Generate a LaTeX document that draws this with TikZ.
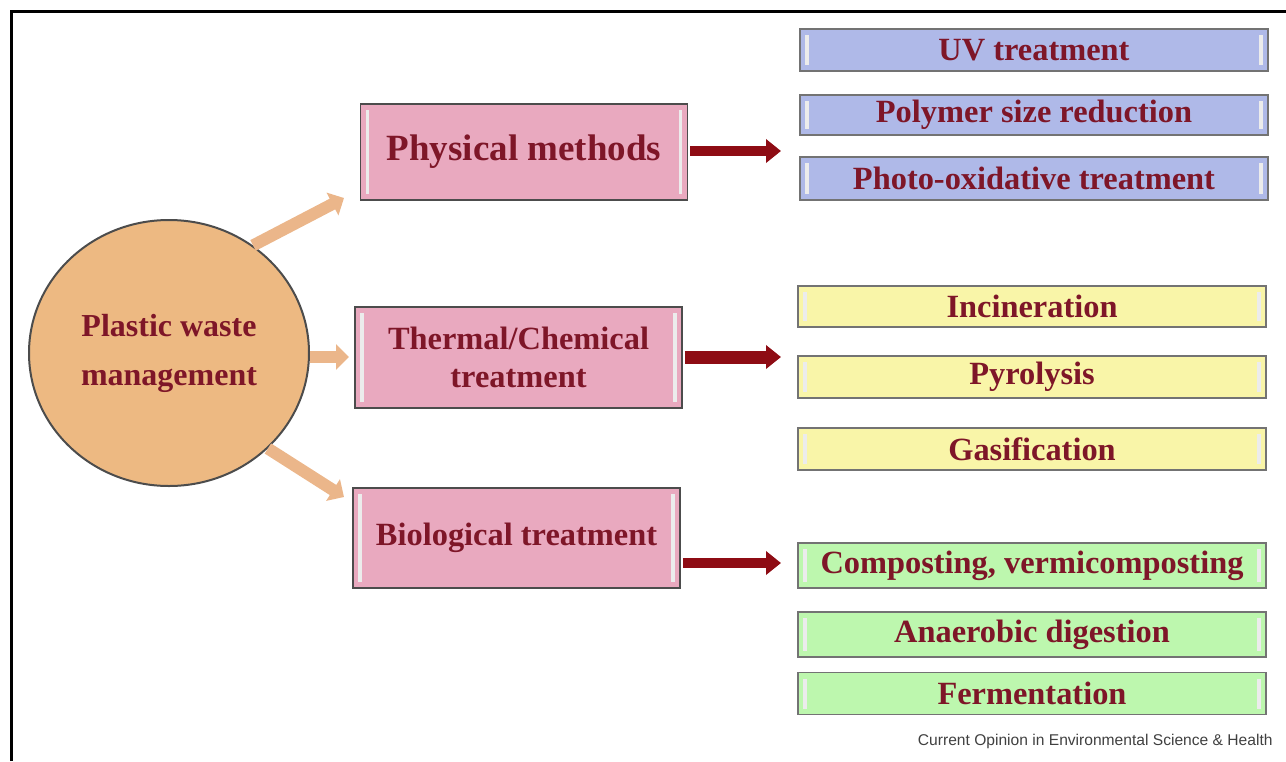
\documentclass[tikz,border=0pt]{standalone}
\usepackage{fontspec}
\setmainfont{Liberation Serif}
\newfontfamily\creditfont{Liberation Sans}
\usetikzlibrary{arrows.meta,%
                shapes.geometric}
\definecolor{txtred}{HTML}{7E1628}
\definecolor{pinkfill}{HTML}{E9A9BF}
\definecolor{bluefill}{HTML}{AFB9E8}
\definecolor{yellowfill}{HTML}{F9F5A8}
\definecolor{greenfill}{HTML}{BDF7AE}
\definecolor{circfill}{HTML}{EDB982}
\definecolor{tanarrow}{HTML}{EBB68A}
\definecolor{darkarrow}{HTML}{8E0C14}
\tikzstyle{glint}=[path picture={
    \draw[white!85!gray,line width=1.6pt]
      ([shift={(3.5pt,-3pt)}]path picture bounding box.north west) --
      ([shift={(3.5pt,3pt)}]path picture bounding box.south west);
    \draw[white!85!gray,line width=1.6pt]
      ([shift={(-3.5pt,-3pt)}]path picture bounding box.north east) --
      ([shift={(-3.5pt,3pt)}]path picture bounding box.south east);}]
\tikzstyle{methodbox}=[rectangle, draw=black!70, line width=0.9pt, fill=pinkfill, glint,
    text=txtred, align=center, inner sep=2pt, minimum width=163.5pt, minimum height=50pt,
    font=\bfseries\fontsize{16.2}{19}\selectfont]
\tikzstyle{optbox}=[rectangle, draw=black!55, line width=0.8pt, glint,
    text=txtred, inner sep=1pt, minimum width=234pt, minimum height=21pt,
    font=\bfseries\fontsize{16.2}{19}\selectfont]

\begin{document}
\begin{tikzpicture}[x=0.5pt,y=-0.5pt]
    \tikzstyle{feed}=[line width=6pt, draw=tanarrow, -{Triangle[length=6.5pt,width=12.5pt]}]
    \tikzstyle{lead}=[line width=5pt, draw=darkarrow, -{Triangle[length=7.5pt,width=11.5pt]}]
  \useasboundingbox (0,0) rectangle (1286,761);
  \draw[line width=1.5pt] (11,761) -- (11,11) -- (1286,11);

  \node[ellipse, draw=black!70, line width=1pt, fill=circfill, text=txtred,
        minimum width=140pt, minimum height=133pt, inner sep=0pt, align=center,
        font=\bfseries\fontsize{16}{24.5}\selectfont]
        (waste) at (169,353) {Plastic waste\\management};

  \node[methodbox, minimum height=48pt, font=\bfseries\fontsize{18.5}{22}\selectfont]
        (phys) at (524,152) {Physical methods};
  \node[methodbox, minimum height=50.5pt] (therm) at (518.5,357.5) {Thermal/Chemical\\treatment};
  \node[methodbox] (bio) at (516.5,538) {Biological treatment};

  \node[optbox, fill=bluefill, minimum height=21pt] (uv) at (1034,50) {UV treatment};
  \node[optbox, fill=bluefill, minimum height=20pt] (poly) at (1034,115) {Polymer size reduction};
  \node[optbox, fill=bluefill, minimum height=21.5pt] (photo) at (1034,178.5) {Photo-oxidative treatment};

  \node[optbox, fill=yellowfill, minimum height=20.5pt] (incin) at (1032,306.5) {Incineration};
  \node[optbox, fill=yellowfill] (pyro) at (1032,377) {Pyrolysis};
  \node[optbox, fill=yellowfill] (gasif) at (1032,449) {Gasification};

  \node[optbox, fill=greenfill, minimum height=22.5pt] (compost) at (1032,565.5) {Composting, vermicomposting};
  \node[optbox, fill=greenfill, minimum height=22.5pt] (anaer) at (1032,634.5) {Anaerobic digestion};
  \node[optbox, fill=greenfill] (ferment) at (1032,693.5) {Fermentation};

  \node[anchor=east, inner sep=0pt, text=black!75, font=\creditfont\fontsize{7.8}{9}\selectfont]
        (credit) at (1273,741) {Current Opinion in Environmental Science \& Health};

  \coordinate (physIn) at (344,198);
  \coordinate (thermIn) at (349,357);
  \coordinate (bioIn) at (344,497);
  \coordinate (physOut) at (781,151);
  \coordinate (thermOut) at (781,357);
  \coordinate (bioOut) at (781,563);

    \draw[feed] (waste.52) -- (physIn);
    \draw[feed] (waste.east |- thermIn) -- (thermIn);
    \draw[feed] (waste.-44) -- (bioIn);
    \draw[lead] ([xshift=1pt]phys.east |- physOut) -- (physOut);
    \draw[lead, line width=6.5pt] ([xshift=1pt]therm.east |- thermOut) -- (thermOut);
    \draw[lead] ([xshift=1pt]bio.east |- bioOut) -- (bioOut);
\end{tikzpicture}
\end{document}
